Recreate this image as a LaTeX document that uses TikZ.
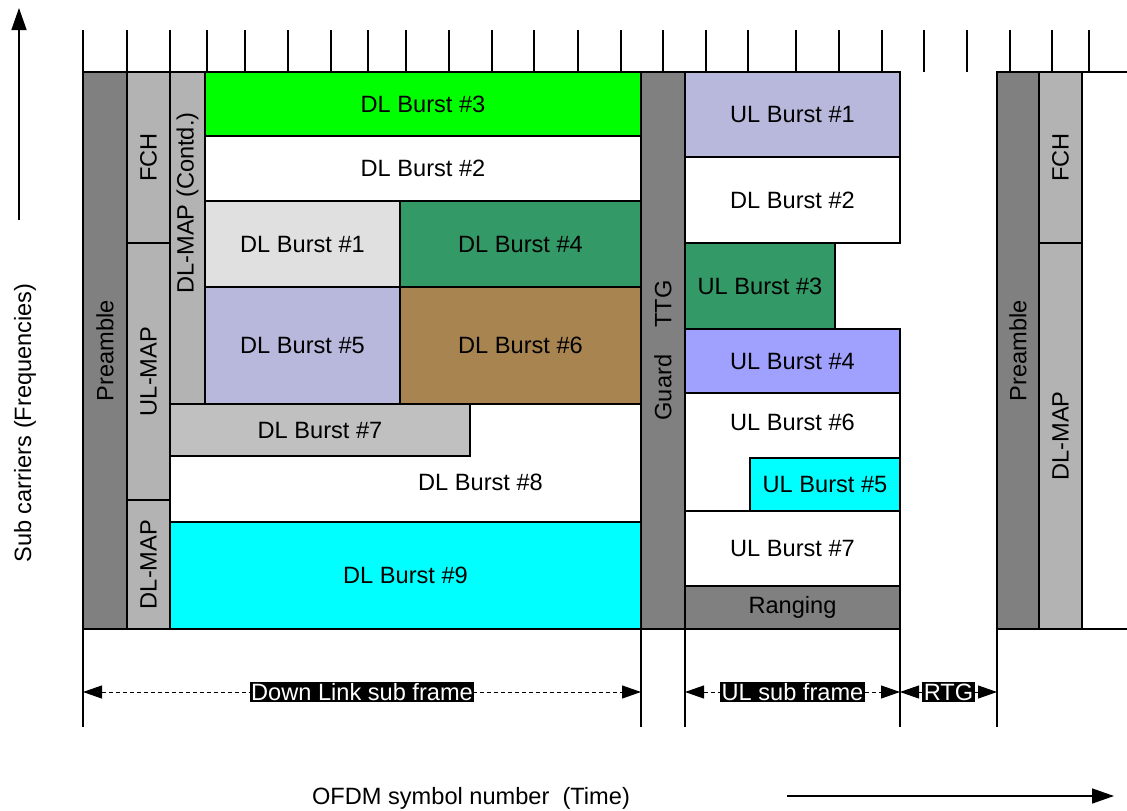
\documentclass[tikz,border=0pt]{standalone}
\usepackage{fontspec}
\setmainfont{Liberation Sans}
\usepackage{xcolor}
\usetikzlibrary{arrows.meta,positioning}

\definecolor{darkgr}{HTML}{808080}
\definecolor{lightgr}{HTML}{B3B3B3}
\definecolor{palegr}{HTML}{E0E0E0}
\definecolor{midgr}{HTML}{C0C0C0}
\definecolor{brgreen}{HTML}{00FF00}
\definecolor{seagreen}{HTML}{339966}
\definecolor{lavender}{HTML}{B8B8DC}
\definecolor{bluish}{HTML}{A0A0FF}
\definecolor{tan}{HTML}{A88450}
\definecolor{aqua}{HTML}{00FFFF}

\begin{document}
\begin{tikzpicture}[
      x=1pt, y=-1pt,
      every node/.style={font=\fontsize{23.6}{28}\selectfont},
      blk/.style={
        draw, line width=1.2pt, anchor=north west, inner sep=0pt, outer sep=0pt
      },
      wh/.style 2 args={minimum width=#1pt, minimum height=#2pt},
      vtext/.style={rotate=90},
      tick/.style={line width=1.5pt},
      edge/.style={line width=1.5pt},
      span/.style={
        line width=1pt, dash pattern=on 4pt off 3pt,
        {Triangle[length=19pt,width=13pt]}-{Triangle[length=19pt,width=13pt]}
      },
      tag/.style={fill=black, text=white, inner sep=1.5pt},
      axis/.style={line width=1.5pt, -{Triangle[length=22pt,width=15pt]}}
    ]
    \useasboundingbox (0,0) rectangle (1127,811);

    \foreach \x in {83,127,170,207,245,288,331,368,406,449,492,534,578,621,
                    663,706,748,796,839,882,924,967,1010,1052,1089}
      \draw[tick] (\x,30) -- (\x,72);

    \node[blk, wh={44}{557}, fill=darkgr] (pre) at (83,72) {};
    \node[vtext] at (pre.center) {Preamble};
    \node[blk, wh={43}{171}, fill=lightgr] (fch) at (127,72) {};
    \node[vtext] at (fch.center) {FCH};
    \node[blk, wh={43}{257}, fill=lightgr] (ulmap) at (127,243) {};
    \node[vtext] at (ulmap.center) {UL-MAP};
    \node[blk, wh={43}{129}, fill=lightgr] (dlmap) at (127,500) {};
    \node[vtext] at (dlmap.center) {DL-MAP};
    \node[blk, wh={35}{332}, fill=lightgr] (dlmapc) at (170,72) {};
    \node[vtext] at ([yshift=35pt]dlmapc.center) {DL-MAP (Contd.)};

    \node[blk, wh={436}{64}, fill=brgreen] (dlb3) at (205,72) {DL Burst \#3};
    \node[blk, wh={436}{65}, fill=white] (dlb2) at (205,136) {DL Burst \#2};
    \node[blk, wh={195}{86}, fill=palegr] (dlb1) at (205,201) {DL Burst \#1};
    \node[blk, wh={241}{86}, fill=seagreen] (dlb4) at (400,201) {DL Burst \#4};
    \node[blk, wh={195}{117}, fill=lavender] (dlb5) at (205,287) {DL Burst \#5};
    \node[blk, wh={241}{117}, fill=tan] (dlb6) at (400,287) {DL Burst \#6};
    \node[blk, wh={471}{118}, fill=white] (dlb8) at (170,404) {};
    \node at ([xshift=75pt,yshift=-19pt]dlb8.center) {DL Burst \#8};
    \node[blk, wh={300}{52}, fill=midgr] (dlb7) at (170,404) {DL Burst \#7};
    \node[blk, wh={471}{107}, fill=aqua] (dlb9) at (170,522) {DL Burst \#9};

    \node[blk, wh={44}{557}, fill=darkgr] (guard) at (641,72) {};
    \node[vtext] at (guard.center) {Guard\hspace{27pt}TTG};

    \node[blk, wh={215}{85}, fill=lavender] (ulb1) at (685,72) {UL Burst \#1};
    \node[blk, wh={215}{86}, fill=white] (ulb2) at (685,157) {DL Burst \#2};
    \node[blk, wh={150}{86}, fill=seagreen] (ulb3) at (685,243) {UL Burst \#3};
    \node[blk, wh={215}{64}, fill=bluish] (ulb4) at (685,329) {UL Burst \#4};
    \node[blk, wh={215}{118}, fill=white] (ulb6) at (685,393) {};
    \node at ([yshift=-29pt]ulb6.north) {UL Burst \#6};
    \node[blk, wh={150}{53}, fill=aqua] (ulb5) at (750,458) {UL Burst \#5};
    \node[blk, wh={215}{75}, fill=white] (ulb7) at (685,511) {UL Burst \#7};
    \node[blk, wh={215}{43}, fill=darkgr] (rng) at (685,586) {Ranging};

    \node[blk, wh={42}{557}, fill=darkgr] (preR) at (997,72) {};
    \node[vtext] at (preR.center) {Preamble};
    \node[blk, wh={43}{171}, fill=lightgr] (fchR) at (1039,72) {};
    \node[vtext] at (fchR.center) {FCH};
    \node[blk, wh={43}{386}, fill=lightgr] (dlmapR) at (1039,243) {};
    \node[vtext] at (dlmapR.center) {DL-MAP};
    \node[blk, wh={60}{557}, fill=white] (nextR) at (1082,72) {};

    \coordinate (e1) at (83,727);
    \coordinate (e2) at (641,727);
    \coordinate (e3) at (685,727);
    \coordinate (e4) at (900,727);
    \coordinate (e5) at (997,727);
    \draw[edge] (pre.south west) -- (e1);
    \draw[edge] (guard.south west) -- (e2);
    \draw[edge] (guard.south east) -- (e3);
    \draw[edge] (rng.south east) -- (e4);
    \draw[edge] (preR.south west) -- (e5);

    \coordinate (s1) at (83,692);
    \coordinate (s2) at (641,692);
    \coordinate (s3) at (685,692);
    \coordinate (s4) at (900,692);
    \coordinate (s5) at (997,692);
    \draw[span] (s1) -- node[tag] (dltag) {Down Link sub frame} (s2);
    \draw[span] (s3) -- node[tag] (ultag) {UL sub frame} (s4);
    \draw[span] (s4) -- node[tag] (rtgtag) {RTG} (s5);

    \coordinate (fy0) at (19,220);
    \coordinate (fy1) at (19,8);
    \draw[axis] (fy0) -- (fy1);
    \node[vtext] (ylab) at (25,423) {Sub carriers (Frequencies)};

    \coordinate (tx0) at (787,796);
    \coordinate (tx1) at (1114,796);
    \draw[axis] (tx0) -- (tx1);
    \node (xlab) at (471,798) {OFDM symbol number\ \ (Time)};
  \end{tikzpicture}
\end{document}
